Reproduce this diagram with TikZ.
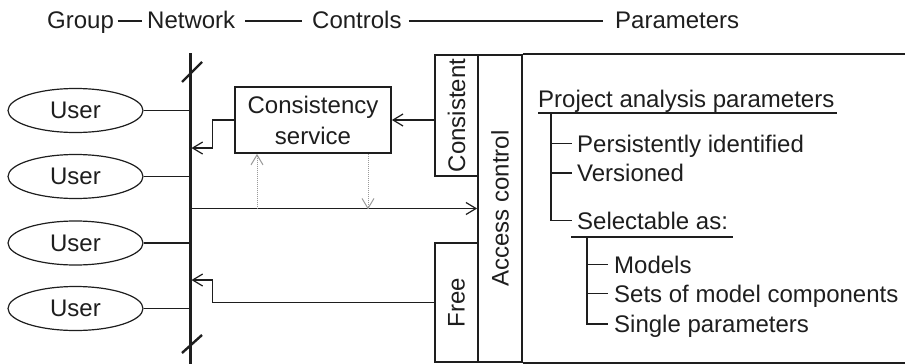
\documentclass[tikz,border=0pt]{standalone}
\usepackage{fontspec}
\setmainfont{Liberation Sans}
\usetikzlibrary{shapes.geometric,arrows.meta,calc}
\definecolor{ink}{HTML}{1E1E1E}
\definecolor{dotc}{HTML}{9A9A9A}
\begin{document}
\begin{tikzpicture}[x=1pt,y=-1pt,font=\fontsize{24}{28}\selectfont,
  user/.style={ellipse,draw=ink,line width=1.2pt,minimum width=135pt,minimum height=44pt,inner sep=0pt,text=ink},
  box/.style={draw=ink,line width=1.8pt,inner sep=0pt},
  lbl/.style={inner sep=0pt,text=ink,anchor=base west},
  vlbl/.style={inner sep=0pt,text=ink,rotate=90},
  link/.style={draw=ink,line width=1.2pt},
  arr/.style={link,-{Straight Barb[length=10pt,width=12pt]}},
  dots/.style={draw=dotc,line width=1pt,densely dotted,-{Straight Barb[length=10pt,width=12pt]}},
  bus/.style={draw=ink,line width=3pt},
  tick/.style={draw=ink,line width=1.2pt},
  rule/.style={draw=ink,line width=1.6pt}]
\useasboundingbox[fill=white] (0,0) rectangle (905,364);

% header row
\node[lbl] (hg) at (47,28) {Group};
\node[lbl] (hn) at (147,28) {Network};
\node[lbl] (hc) at (312,28) {Controls};
\node[lbl] (hp) at (615,28) {Parameters};
\draw[rule] ($(hg.base east)+(3.5,-7)$) -- ($(hn.base west)+(-5,-7)$);
\draw[rule] ($(hn.base east)+(10,-7)$) -- ($(hc.base west)+(-10,-7)$);
\draw[rule] ($(hc.base east)+(7,-7)$) -- ($(hp.base west)+(-12,-7)$);

% network bus with break marks
\coordinate (bt) at (190,53);
\coordinate (bb) at (190,366);
\draw[bus] (bt) -- (bb);
\draw[ink,line width=2.4pt] (182,82) -- (202,62);
\draw[ink,line width=2.4pt] (182,353) -- (202,335);

% users
\node[user] (u1) at (75.5,110.5) {User};
\node[user] (u2) at (75.5,176.5) {User};
\node[user] (u3) at (75.5,243) {User};
\node[user] (u4) at (75.5,308.5) {User};
\foreach \u in {u1,u2,u3,u4} \draw[link] (\u.east) -- (\u.east -| bt);

% controls
\node[box,minimum width=156pt,minimum height=66pt,align=center,text=ink] (cs) at (313,120) {Consistency\\[3pt]service};
\node[box,minimum width=43pt,minimum height=121pt] (cn) at (456.5,115.5) {};
\node[vlbl] at (cn) {Consistent};
\node[box,minimum width=43pt,minimum height=119pt] (fr) at (456.5,302.5) {};
\node[vlbl] at (fr) {Free};
\node[box,minimum width=44pt,minimum height=307pt] (ac) at (500,208.5) {};
\node[vlbl] at (ac) {Access control};

% parameter panel frame
\draw[ink,line width=1.8pt] (ac.north east) -- ++(440,0);
\draw[ink,line width=1.8pt] (ac.south east) -- ++(440,0);

% connectors
\coordinate (j1) at (191.5,148);
\coordinate (j2) at (190,208.5);
\coordinate (j3) at (191.5,280);
\draw[arr] (cs.west) -- ++(-22,0) |- (j1);
\draw[arr] (cs.east -| cn.west) -- (cs.east);
\draw[arr] (j2) -- (ac.west);
\draw[dots] ($(cs.south)+(-56,55.5)$) -- ($(cs.south)+(-56,0)$);
\draw[dots] ($(cs.south)+(55,0)$) -- ($(cs.south)+(55,55.5)$);
\draw[arr] (fr.west) -- ++(-222,0) |- (j3);

% parameter tree
\node[lbl] (pap) at (538,107) {Project analysis parameters};
\node[lbl] (per) at (577,152) {Persistently identified};
\node[lbl] (ver) at (577,181.5) {Versioned};
\node[lbl] (sel) at (577,229) {Selectable as:};
\node[lbl] (mod) at (614,273) {Models};
\node[lbl] (sets) at (614,302) {Sets of model components};
\node[lbl] (sgl) at (614,332.5) {Single parameters};

\draw[rule] ($(pap.base west)+(0,6)$) -- ($(pap.base east)+(2,6)$);
\draw[tick] ($(pap.base west)+(13,6)$) |- ($(sel.base west)+(-5,-8.5)$);
\draw[tick] ($(per.base west)+(-26,-8.5)$) -- ($(per.base west)+(-5,-8.5)$);
\draw[tick] ($(ver.base west)+(-26,-8.5)$) -- ($(ver.base west)+(-5,-8.5)$);

\draw[rule] ($(sel.base west)+(-6,8)$) -- ($(sel.base east)+(5,8)$);
\draw[tick] ($(sel.base west)+(10,8)$) |- ($(sgl.base west)+(-6,-8.5)$);
\draw[tick] ($(mod.base west)+(-27,-8.5)$) -- ($(mod.base west)+(-6,-8.5)$);
\draw[tick] ($(sets.base west)+(-27,-8.5)$) -- ($(sets.base west)+(-6,-8.5)$);
\end{tikzpicture}
\end{document}
